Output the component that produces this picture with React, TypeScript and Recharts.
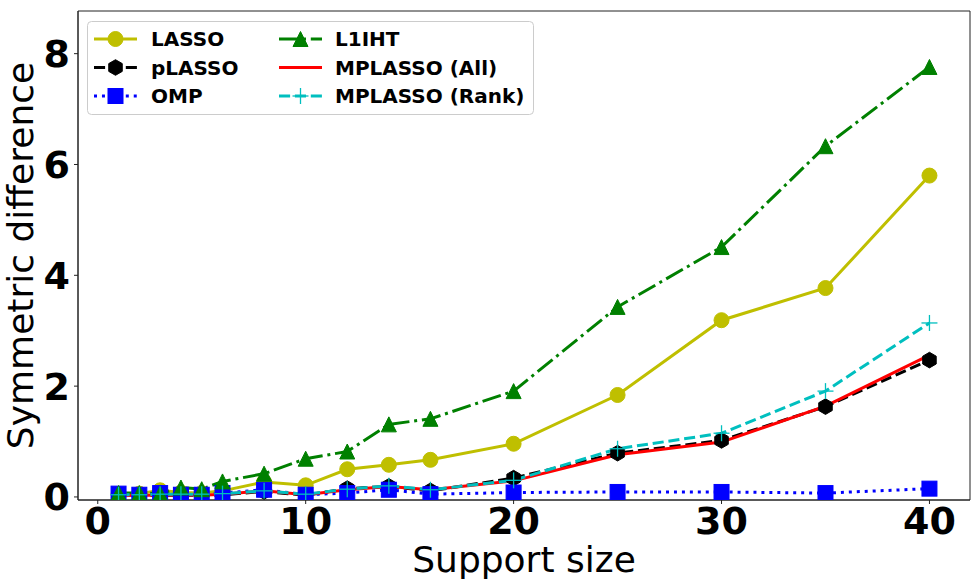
import React from 'react';
import { LineChart, Line, XAxis, YAxis, ReferenceArea, Legend, Label } from 'recharts';

// ---- data ----
const supportSizes = [1, 2, 3, 4, 5, 6, 8, 10, 12, 14, 16, 20, 25, 30, 35, 40];
const lassoValues = [0.05, 0.06, 0.12, 0.08, 0.07, 0.11, 0.27, 0.21, 0.5, 0.58, 0.67, 0.96, 1.84, 3.19, 3.77, 5.8];
const plassoValues = [0.03, 0.03, 0.03, 0.03, 0.03, 0.04, 0.1, 0.03, 0.15, 0.19, 0.11, 0.34, 0.79, 1.02, 1.63, 2.47];
const ompValues = [0.06, 0.04, 0.07, 0.04, 0.04, 0.07, 0.13, 0.04, 0.07, 0.13, 0.05, 0.08, 0.09, 0.09, 0.07, 0.15];
const l1ihtValues = [0.07, 0.07, 0.06, 0.17, 0.14, 0.28, 0.42, 0.69, 0.82, 1.31, 1.41, 1.91, 3.43, 4.51, 6.33, 7.76];
const mplassoAllValues = [0.02, 0.03, 0.03, 0.04, 0.03, 0.05, 0.11, 0.04, 0.13, 0.19, 0.13, 0.29, 0.76, 0.99, 1.64, 2.56];
const mplassoRankValues = [0.04, 0.04, 0.05, 0.05, 0.05, 0.06, 0.11, 0.05, 0.14, 0.2, 0.13, 0.3, 0.87, 1.15, 1.91, 3.14];
const xTicks = [0, 10, 20, 30, 40];
const yTicks = [0, 2, 4, 6, 8];
const seriesNames = ['LASSO', 'pLASSO', 'OMP', 'L1IHT', 'MPLASSO (All)', 'MPLASSO (Rank)'];

const chartData = supportSizes.map((x, i) => ({
  x,
  lasso: lassoValues[i],
  plasso: plassoValues[i],
  omp: ompValues[i],
  l1iht: l1ihtValues[i],
  mpAll: mplassoAllValues[i],
  mpRank: mplassoRankValues[i],
}));

// ---- styles ----
type Kind = 'circle' | 'hexagon' | 'square' | 'triangle' | 'none' | 'plus';
const series: { key: string; name: string; color: string; dash?: string; marker: Kind }[] = [
  { key: 'lasso', name: seriesNames[0], color: '#bfbf00', marker: 'circle' },
  { key: 'plasso', name: seriesNames[1], color: '#000000', dash: '11.1 4.8', marker: 'hexagon' },
  { key: 'omp', name: seriesNames[2], color: '#0000ff', dash: '3 4.95', marker: 'square' },
  { key: 'l1iht', name: seriesNames[3], color: '#008000', dash: '19.2 4.8 3 4.8', marker: 'triangle' },
  { key: 'mpAll', name: seriesNames[4], color: '#ff0000', marker: 'none' },
  { key: 'mpRank', name: seriesNames[5], color: '#00bfbf', dash: '11.1 4.8', marker: 'plus' },
];

const FONT = "'DejaVu Sans', sans-serif";

function MarkerShape({ kind, color, cx, cy }: { kind: Kind; color: string; cx: number; cy: number }) {
  switch (kind) {
    case 'circle':
      return <circle cx={cx} cy={cy} r={7.5} fill={color} stroke={color} strokeWidth={1} />;
    case 'square':
      return <rect x={cx - 7.5} y={cy - 7.5} width={15} height={15} fill={color} stroke={color} strokeWidth={1} />;
    case 'triangle':
      return (
        <polygon
          points={`${cx},${cy - 7.5} ${cx - 7.5},${cy + 7.5} ${cx + 7.5},${cy + 7.5}`}
          fill={color}
          stroke={color}
          strokeWidth={1}
        />
      );
    case 'hexagon': {
      const R = 7.8;
      const pts = [0, 60, 120, 180, 240, 300]
        .map((a) => {
          const t = (a * Math.PI) / 180;
          return `${cx + R * Math.sin(t)},${cy - R * Math.cos(t)}`;
        })
        .join(' ');
      return <polygon points={pts} fill={color} stroke={color} strokeWidth={1} />;
    }
    case 'plus':
      return (
        <g stroke={color} strokeWidth={1.3}>
          <line x1={cx - 8} y1={cy} x2={cx + 8} y2={cy} />
          <line x1={cx} y1={cy - 8} x2={cx} y2={cy + 8} />
        </g>
      );
    default:
      return null;
  }
}

function makeDot(kind: Kind, color: string) {
  return (p: any) => {
    const { cx, cy, index } = p;
    if (cx == null || cy == null) return <g key={`d-${index}`} />;
    return (
      <g key={`d-${index}`}>
        <MarkerShape kind={kind} color={color} cx={cx} cy={cy} />
      </g>
    );
  };
}

function renderLegend() {
  const rows = [18, 46.5, 75];
  const handleX = [7, 192];
  const textX = [64, 248];
  return (
    <svg width={450} height={96} style={{ display: 'block', overflow: 'visible' }}>
      <rect x={0.5} y={0.5} width={446} height={93} rx={4} ry={4} fill="#ffffff" fillOpacity={0.8} stroke="#cccccc" strokeWidth={1} />
      {series.map((s, i) => {
        const col = Math.floor(i / 3);
        const row = i % 3;
        const y = rows[row];
        const x0 = handleX[col];
        const x1 = x0 + 43;
        return (
          <g key={s.key}>
            <line x1={x0} y1={y} x2={x1} y2={y} stroke={s.color} strokeWidth={3} strokeDasharray={s.dash} />
            <MarkerShape kind={s.marker} color={s.color} cx={(x0 + x1) / 2} cy={y} />
            <text x={textX[col]} y={y} dominantBaseline="central" fontFamily={FONT} fontWeight="bold" fontSize={20} fill="#000">
              {s.name}
            </text>
          </g>
        );
      })}
    </svg>
  );
}

const xLabel = (props: any) => {
  const vb = props.viewBox || {};
  return (
    <text x={vb.x + vb.width / 2} y={572} textAnchor="middle" fontFamily={FONT} fontSize={36} fill="#000">
      Support size
    </text>
  );
};

const yLabel = (props: any) => {
  const vb = props.viewBox || {};
  const cy = vb.y + vb.height / 2;
  const x = 32.5;
  return (
    <text x={x} y={cy} transform={`rotate(-90, ${x}, ${cy})`} textAnchor="middle" fontFamily={FONT} fontSize={36} fill="#000">
      Symmetric difference
    </text>
  );
};

const X_DOMAIN: [number, number] = [-0.95, 41.95];
const Y_DOMAIN: [number, number] = [-0.055, 8.77];

export default function App() {
  return (
    <div style={{ position: 'absolute', left: 0, top: 0, width: 980, height: 586, background: '#fff', fontFamily: FONT }}>
      <LineChart width={980} height={586} data={chartData} margin={{ top: 11, right: 10, left: 0, bottom: 0 }}>
        <XAxis
          dataKey="x"
          type="number"
          domain={X_DOMAIN}
          allowDataOverflow
          ticks={xTicks}
          height={86}
          tickSize={4}
          tickMargin={3}
          axisLine={{ stroke: '#222', strokeWidth: 1 }}
          tickLine={{ stroke: '#222', strokeWidth: 1 }}
          tick={{ fontSize: 38, fontWeight: 'bold', fill: '#000', fontFamily: FONT }}
        >
          <Label content={xLabel} />
        </XAxis>
        <YAxis
          type="number"
          domain={Y_DOMAIN}
          allowDataOverflow
          ticks={yTicks}
          width={78}
          tickSize={4}
          tickMargin={4}
          axisLine={{ stroke: '#222', strokeWidth: 1 }}
          tickLine={{ stroke: '#222', strokeWidth: 1 }}
          tick={{ fontSize: 38, fontWeight: 'bold', fill: '#000', fontFamily: FONT }}
        >
          <Label content={yLabel} />
        </YAxis>
        <ReferenceArea
          x1={X_DOMAIN[0]}
          x2={X_DOMAIN[1]}
          y1={Y_DOMAIN[0]}
          y2={Y_DOMAIN[1]}
          fill="none"
          stroke="#222"
          strokeWidth={1}
          ifOverflow="visible"
        />
        {series.map((s) => (
          <Line
            key={s.key}
            dataKey={s.key}
            name={s.name}
            type="linear"
            stroke={s.color}
            strokeWidth={3}
            strokeDasharray={s.dash}
            dot={s.marker === 'none' ? false : makeDot(s.marker, s.color)}
            activeDot={false}
            isAnimationActive={false}
          />
        ))}
        <Legend
          layout="vertical"
          align="center"
          verticalAlign="middle"
          content={renderLegend}
          wrapperStyle={{ left: 87, top: 21, width: 450, height: 96 }}
        />
      </LineChart>
    </div>
  );
}
